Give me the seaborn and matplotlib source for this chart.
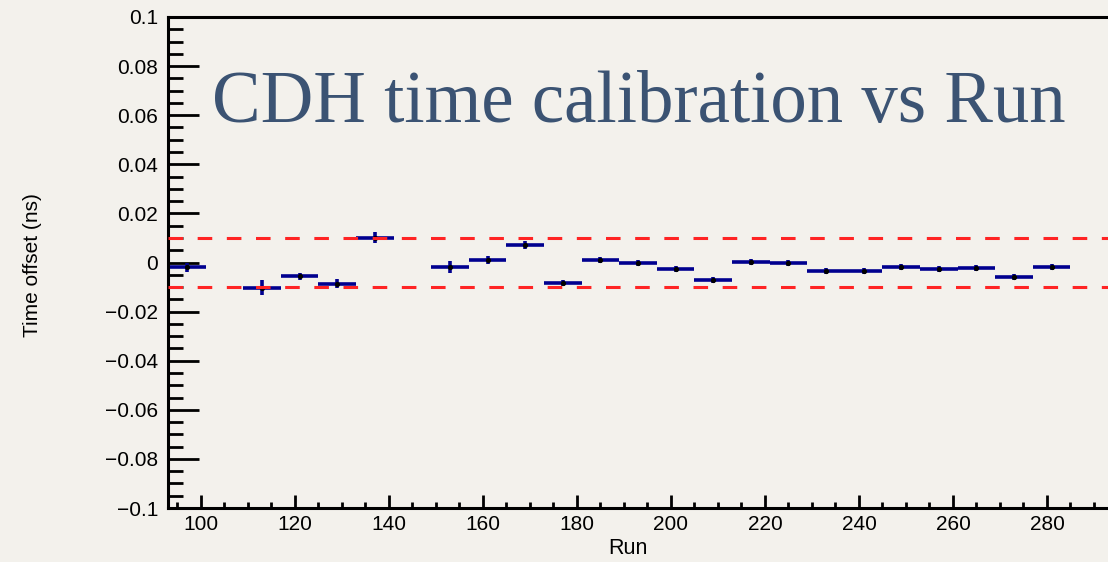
import numpy as np
import pandas as pd
import seaborn as sns
from matplotlib import pyplot as plt
from matplotlib.ticker import MultipleLocator, FixedLocator, FuncFormatter

# run bins (centre), half width of each bin, time offset and its error
runs = [97, 113, 121, 129, 137, 153, 161, 169, 177, 185, 193,
        201, 209, 217, 225, 233, 241, 249, 257, 265, 273, 281]
run_halfwidth = [4] * len(runs)
offset = [-0.0020, -0.0102, -0.0057, -0.0087, 0.0101, -0.0018, 0.0011, 0.0070,
          -0.0084, 0.0011, -0.0003, -0.0025, -0.0073, 0.0003, -0.0002, -0.0035,
          -0.0035, -0.0019, -0.0025, -0.0022, -0.0059, -0.0019]
offset_err = [0.0020, 0.0029, 0.0016, 0.0018, 0.0022, 0.0024, 0.0017, 0.0017,
              0.0012, 0.0012, 0.0012, 0.0012, 0.0012, 0.0012, 0.0012, 0.0012,
              0.0012, 0.0012, 0.0012, 0.0012, 0.0012, 0.0012]
limits = [0.01, -0.01]
run_ticks = [100, 120, 140, 160, 180, 200, 220, 240, 260, 280]

bg = '#f3f1ec'
sns.set_style('ticks', {'axes.facecolor': bg, 'figure.facecolor': bg,
                        'axes.edgecolor': 'black', 'xtick.color': 'black',
                        'ytick.color': 'black', 'text.color': 'black'})
plt.rcParams['font.family'] = ['Liberation Sans', 'DejaVu Sans']
plt.rcParams['lines.scale_dashes'] = False

df = pd.DataFrame({'run': runs, 'xerr': run_halfwidth, 'offset': offset, 'err': offset_err})

fig = plt.figure(figsize=(11.08, 5.62), dpi=100)
ax = fig.add_axes([168/1108, 1-508/562, 973/1108, 491/562])

ax.errorbar(df.run, df.offset, xerr=df.xerr, yerr=df.err, fmt='none',
            ecolor='#00008f', elinewidth=2.6, capsize=0, zorder=2)
sns.scatterplot(data=df, x='run', y='offset', ax=ax, color='black', s=14,
                marker='o', linewidth=0, zorder=3, legend=False)

for lim in limits:
    ax.axhline(lim, color='#ff2424', lw=2.2, dashes=(10.5, 10.5), zorder=4)


def ylab(v, p):
    v = round(v, 3)
    if abs(v) < 1e-9:
        return '0'
    return ('%g' % v).replace('-', '\u2212')


ax.set_xlim(93, 300)
ax.set_ylim(-0.1, 0.1)
ax.xaxis.set_major_locator(FixedLocator(run_ticks))
ax.xaxis.set_minor_locator(MultipleLocator(5))
ax.yaxis.set_major_locator(MultipleLocator(0.02))
ax.yaxis.set_minor_locator(MultipleLocator(0.005))
ax.yaxis.set_major_formatter(FuncFormatter(ylab))

ax.tick_params(axis='y', which='major', direction='in', length=22, width=2, labelsize=15, pad=7)
ax.tick_params(axis='y', which='minor', direction='in', length=11, width=2)
ax.tick_params(axis='x', which='major', direction='in', length=9.5, width=2, labelsize=15, pad=5)
ax.tick_params(axis='x', which='minor', direction='in', length=4.5, width=2)
for side in ['left', 'bottom', 'top', 'right']:
    ax.spines[side].set_linewidth(2.2)
ax.set_xlabel('')
ax.set_ylabel('')

fig.text(32/1108, 1-265/562, 'Time offset (ns)', rotation=90, ha='center', va='center', fontsize=15)
fig.text(628/1108, 1-549/562, 'Run', ha='center', va='center', fontsize=15.5)
fig.text(212/1108, 1-122/562, 'CDH time calibration vs Run', ha='left', va='baseline',
         fontsize=52.5, color='#3b5373', family=['Liberation Serif', 'DejaVu Serif'])

fig.savefig('out.png', dpi=100, facecolor=bg)
